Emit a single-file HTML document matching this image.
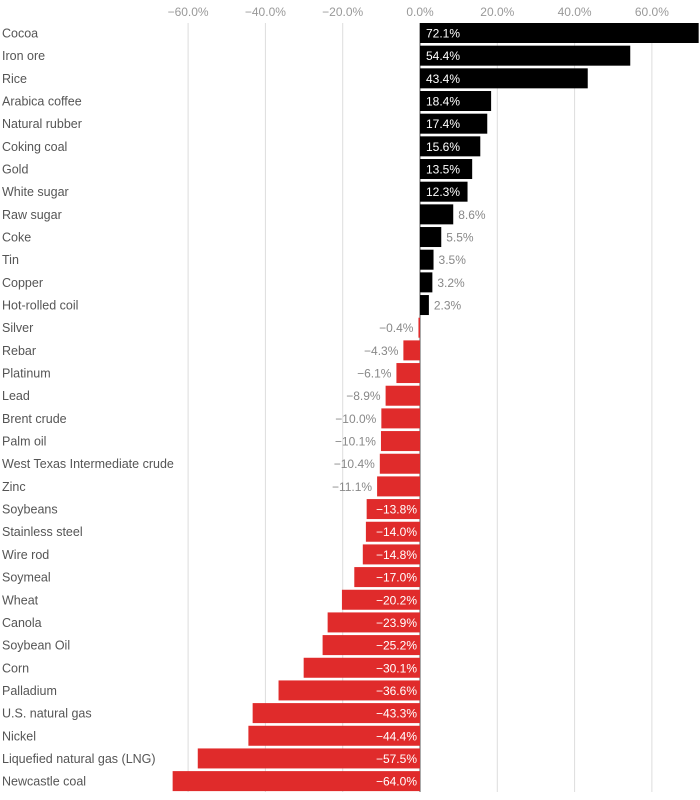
<!DOCTYPE html>
<html><head><meta charset="utf-8"><style>
body{margin:0;background:#fff;font-family:"Liberation Sans",sans-serif}
svg text{font-family:"Liberation Sans",sans-serif}
</style></head><body>
<svg id="chart" width="700" height="795"></svg>
<script>
const categories=["Cocoa","Iron ore","Rice","Arabica coffee","Natural rubber","Coking coal","Gold","White sugar","Raw sugar","Coke","Tin","Copper","Hot-rolled coil","Silver","Rebar","Platinum","Lead","Brent crude","Palm oil","West Texas Intermediate crude","Zinc","Soybeans","Stainless steel","Wire rod","Soymeal","Wheat","Canola","Soybean Oil","Corn","Palladium","U.S. natural gas","Nickel","Liquefied natural gas (LNG)","Newcastle coal"];
const values=[72.1,54.4,43.4,18.4,17.4,15.6,13.5,12.3,8.6,5.5,3.5,3.2,2.3,-0.4,-4.3,-6.1,-8.9,-10.0,-10.1,-10.4,-11.1,-13.8,-14.0,-14.8,-17.0,-20.2,-23.9,-25.2,-30.1,-36.6,-43.3,-44.4,-57.5,-64.0];
const ticks=[-60,-40,-20,0,20,40,60];
const NS="http://www.w3.org/2000/svg";
const svg=document.getElementById('chart');
const x=v=>420+v*3.865;
const y=i=>23+i*22.67;
function el(t,a){const e=document.createElementNS(NS,t);for(const k in a)e.setAttribute(k,a[k]);svg.appendChild(e);return e;}
ticks.forEach(t=>{
  const g=el('line',{x1:x(t),x2:x(t),y1:23,y2:792,stroke:t===0?'#555':'#ddd','stroke-width':1});
  
  
  const l=el('text',{x:x(t),y:16,'text-anchor':'middle','font-size':12,fill:'#999'});
  l.textContent=(t<0?'\u2212':'')+Math.abs(t).toFixed(1)+'%';
  
  
});
categories.forEach((c,i)=>{
  const v=values[i];
  const cy=y(i)+10;
  const lab=el('text',{x:2,y:cy+4.5,'font-size':12.5,fill:'#555'});
  lab.textContent=c;
  
  
  const x0=Math.min(x(0),x(v)),w=Math.abs(x(v)-x(0));
  const b=el('rect',{x:x0,y:y(i),width:Math.max(w,1),height:20,fill:v>=0?'#000':'#e02b2b'});
  
  
  const s=(v<0?'\u2212':'')+Math.abs(v).toFixed(1)+'%';
  const inside=Math.abs(v)>=12;
  let tx,anchor,fill;
  if(v>=0){tx=inside?x(0)+6:x(v)+5;anchor='start';}
  else{tx=inside?x(0)-3:x(v)-5;anchor='end';}
  fill=inside?'#fff':'#888';
  const t=el('text',{x:tx,y:cy+4.5,'text-anchor':anchor,'font-size':12,fill:fill});
  t.textContent=s;
  
  
});
</script>
</body></html>
